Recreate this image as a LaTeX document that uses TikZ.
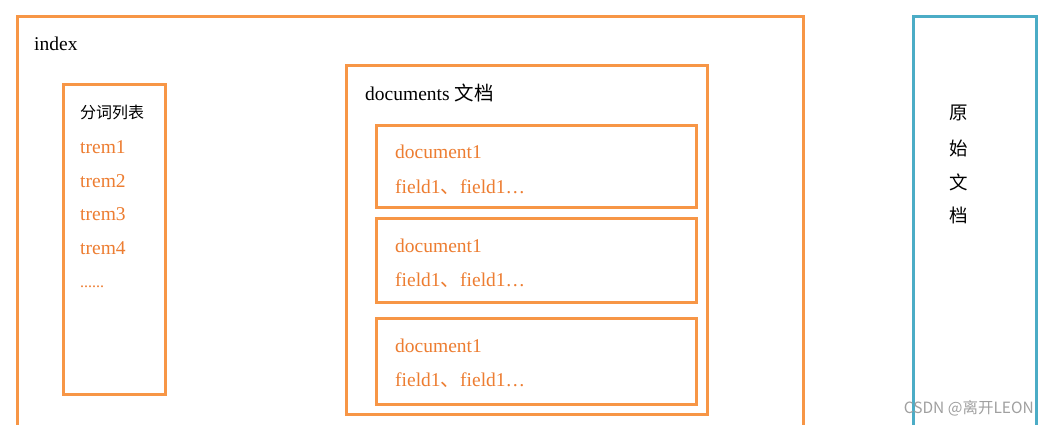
\documentclass[tikz,border=0pt]{standalone}
\usepackage{fontspec}
\setmainfont{Liberation Serif}
\newfontfamily\cjk{Noto Sans CJK SC}
\definecolor{boxor}{RGB}{247,150,70}
\definecolor{txtor}{RGB}{237,125,49}
\definecolor{boxbl}{RGB}{75,172,198}
\definecolor{wm}{RGB}{160,160,160}
\begin{document}
\begin{tikzpicture}[x=1pt,y=-1pt,
  obox/.style={draw=boxor,line width=3pt},
  bbox/.style={draw=boxbl,line width=3pt},
  blk/.style={inner sep=0pt,anchor=base west,font=\fontsize{19.5}{21}\selectfont},
  otx/.style={blk,text=txtor},
  cjt/.style={inner sep=0pt,anchor=west,font=\cjk\fontsize{16}{18}\selectfont},
  vch/.style={inner sep=0pt,font=\cjk\fontsize{18.5}{20}\selectfont}]
\useasboundingbox (0,0) rectangle (1048,425);
\clip (0,0) rectangle (1048,425);
\fill[white] (0,0) rectangle (1048,425);
% boxes
\draw[obox] (17,17) rectangle (803,450);
\draw[obox] (63,85) rectangle (165,394);
\draw[obox] (346,66) rectangle (707,414);
\draw[obox] (376,125) rectangle (696,207);
\draw[obox] (376,218) rectangle (696,302);
\draw[obox] (376,318) rectangle (696,404);
\draw[bbox] (913,17) rectangle (1036,450);
% texts
\node[blk] (idx) at (34,51) {index};
\node[cjt] (fc) at (80,112) {分词列表};
\node[otx] (t1) at (80,153) {trem1};
\node[otx] (t2) at (80,187) {trem2};
\node[otx] (t3) at (80,220) {trem3};
\node[otx] (t4) at (80,254) {trem4};
\node[otx,font=\fontsize{16}{18}\selectfont] (t5) at (80,287) {......};
\node[blk] (docs) at (365,101) {documents {\cjk 文档}};
\node[otx] (d1) at (395,158) {document1};
\node[otx] (f1) at (395,193) {field1{\cjk 、}field1…};
\node[otx] (d2) at (395,252) {document1};
\node[otx] (f2) at (395,286) {field1{\cjk 、}field1…};
\node[otx] (d3) at (395,352) {document1};
\node[otx] (f3) at (395,386) {field1{\cjk 、}field1…};
\node[vch] (y1) at (959,113) {原};
\node[vch] (y2) at (959,148) {始};
\node[vch] (y3) at (959,182) {文};
\node[vch] (y4) at (959,215) {档};
\node[inner sep=0pt,anchor=east,text=wm,font=\cjk\fontsize{15.5}{17}\selectfont] (wmk) at (1034,408) {CSDN @离开LEON};
\end{tikzpicture}
\end{document}
